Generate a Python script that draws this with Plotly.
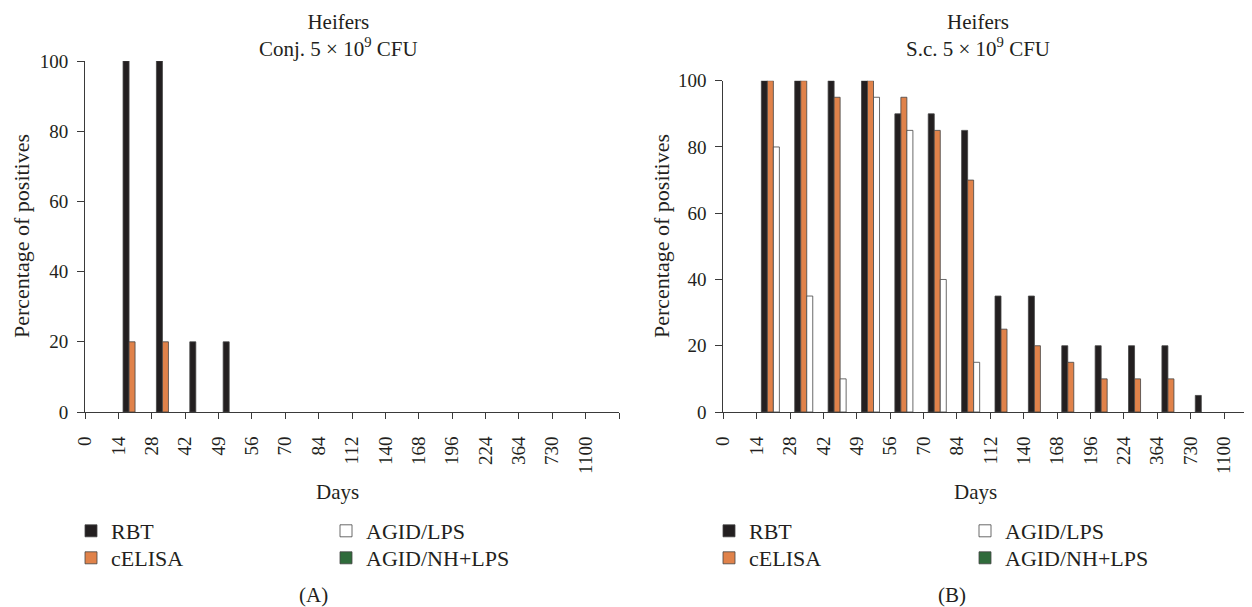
import plotly.graph_objects as go

# ---------------- data ----------------
days = ["0", "14", "28", "42", "49", "56", "70", "84", "112", "140",
        "168", "196", "224", "364", "730", "1100"]

series_names = ["RBT", "cELISA", "AGID/LPS", "AGID/NH+LPS"]

# Panel A: Heifers, Conj. 5x10^9 CFU
a_rbt = [0, 100, 100, 20, 20, 0, 0, 0, 0, 0, 0, 0, 0, 0, 0, 0]
a_celisa = [0, 20, 20, 0, 0, 0, 0, 0, 0, 0, 0, 0, 0, 0, 0, 0]
a_agid_lps = [0, 0, 0, 0, 0, 0, 0, 0, 0, 0, 0, 0, 0, 0, 0, 0]
a_agid_nh = [0, 0, 0, 0, 0, 0, 0, 0, 0, 0, 0, 0, 0, 0, 0, 0]

# Panel B: Heifers, S.c. 5x10^9 CFU
b_rbt = [0, 100, 100, 100, 100, 90, 90, 85, 35, 35, 20, 20, 20, 20, 5, 0]
b_celisa = [0, 100, 100, 95, 100, 95, 85, 70, 25, 20, 15, 10, 10, 10, 0, 0]
b_agid_lps = [0, 80, 35, 10, 95, 85, 40, 15, 0, 0, 0, 0, 0, 0, 0, 0]
b_agid_nh = [0, 0, 0, 0, 0, 0, 0, 0, 0, 0, 0, 0, 0, 0, 0, 0]

colors = ["#231f20", "#e0824a", "#ffffff", "#2f6b3b"]

# ---------------- layout helpers ----------------
W, H = 1252, 607
OFF = 8  # page body margin in the browser
FONT = "Liberation Serif"
TXT = "#231f20"
AXC = "#3a3a3a"


def fx(p):
    """screen x pixel -> paper fraction"""
    return (p - OFF) / W


def fy(p):
    """screen y pixel (from top) -> paper fraction"""
    return 1 - (p - OFF) / H


n = len(days)
# bars sit in the middle of each category slot, labels on slot boundaries
xpos = [i + 0.5 for i in range(n)]

fig = go.Figure()

panels = [
    ("x", "y", [a_rbt, a_celisa, a_agid_lps, a_agid_nh],
     ["legend", "legend2", "legend3", "legend4"]),
    ("x2", "y2", [b_rbt, b_celisa, b_agid_lps, b_agid_nh],
     ["legend5", "legend6", "legend7", "legend8"]),
]

for xa, ya, vals, legs in panels:
    for name, v, c, lg in zip(series_names, vals, colors, legs):
        fig.add_trace(go.Bar(
            x=xpos,
            # a 0 % result leaves no visible bar
            y=[val if val > 0 else None for val in v],
            customdata=v,
            name=name, xaxis=xa, yaxis=ya,
            marker=dict(color=c, line=dict(color="#444444", width=0.8)),
            legend=lg,
            hovertemplate=name + ": %{customdata}%<extra></extra>",
        ))

tickfont = dict(family=FONT, size=19, color=TXT)
common_x = dict(
    tickmode="array", tickvals=list(range(n)), ticktext=days,
    tickangle=-90, showgrid=False, zeroline=False, showline=True,
    linecolor=AXC, linewidth=1, ticks="outside", ticklen=6, tickcolor=AXC,
    tickwidth=1, tickfont=tickfont, ticklabelstandoff=10, automargin=False,
    range=[0, n],
    minor=dict(tickmode="array", tickvals=[n], ticks="outside", ticklen=6,
               tickcolor=AXC, tickwidth=1, showgrid=False),
)
common_y = dict(
    range=[0, 100], tickvals=[0, 20, 40, 60, 80, 100], showgrid=False,
    zeroline=False, showline=True, linecolor=AXC, linewidth=1,
    ticks="outside", ticklen=7, tickcolor=AXC, tickwidth=1, tickfont=tickfont,
    ticklabelstandoff=5, automargin=False,
)

slot_px = 33.38

fig.update_layout(
    template="none",
    width=W, height=H,
    margin=dict(l=0, r=0, t=0, b=0, pad=0, autoexpand=False),
    paper_bgcolor="white", plot_bgcolor="white",
    barmode="group", bargap=0.28, bargroupgap=0,
    font=dict(family=FONT, size=21, color=TXT),
    xaxis=dict(domain=[fx(85), fx(85 + n * 33.375)], anchor="y", **common_x),
    yaxis=dict(domain=[fy(412), fy(61)], anchor="x", **common_y),
    xaxis2=dict(domain=[fx(723.3), fx(723.3 + n * slot_px)], anchor="y2", **common_x),
    yaxis2=dict(domain=[fy(412), fy(80.7)], anchor="x2", **common_y),
)

leg_common = dict(orientation="v", xanchor="left", yanchor="top",
                  font=dict(family=FONT, size=22, color=TXT),
                  bgcolor="rgba(0,0,0,0)", itemwidth=30, tracegroupgap=0,
                  itemclick=False, itemdoubleclick=False)
row1_top, row2_top = 510, 537
fig.update_layout(
    showlegend=True,
    legend=dict(x=fx(71), y=fy(row1_top), **leg_common),
    legend2=dict(x=fx(71), y=fy(row2_top), **leg_common),
    legend3=dict(x=fx(326), y=fy(row1_top), **leg_common),
    legend4=dict(x=fx(326), y=fy(row2_top), **leg_common),
    legend5=dict(x=fx(709), y=fy(row1_top), **leg_common),
    legend6=dict(x=fx(709), y=fy(row2_top), **leg_common),
    legend7=dict(x=fx(965), y=fy(row1_top), **leg_common),
    legend8=dict(x=fx(965), y=fy(row2_top), **leg_common),
)

ann_font = dict(family=FONT, size=21, color=TXT)
annotations = [
    dict(text="Heifers<br>Conj. 5 × 10<sup>9</sup> CFU", x=fx(338), y=fy(35)),
    dict(text="Heifers<br>S.c. 5 × 10<sup>9</sup> CFU", x=fx(978), y=fy(35)),
    dict(text="Days", x=fx(337), y=fy(492)),
    dict(text="Days", x=fx(975), y=fy(492)),
    dict(text="(A)", x=fx(313), y=fy(595)),
    dict(text="(B)", x=fx(952), y=fy(595)),
    dict(text="Percentage of positives", x=fx(21), y=fy(236),
         textangle=-90, font=dict(family=FONT, size=22, color=TXT)),
    dict(text="Percentage of positives", x=fx(661), y=fy(236),
         textangle=-90, font=dict(family=FONT, size=22, color=TXT)),
]
for a in annotations:
    a.setdefault("font", ann_font)
    fig.add_annotation(xref="paper", yref="paper", showarrow=False,
                       xanchor="center", yanchor="middle", **a)

fig.write_html("out.html")
